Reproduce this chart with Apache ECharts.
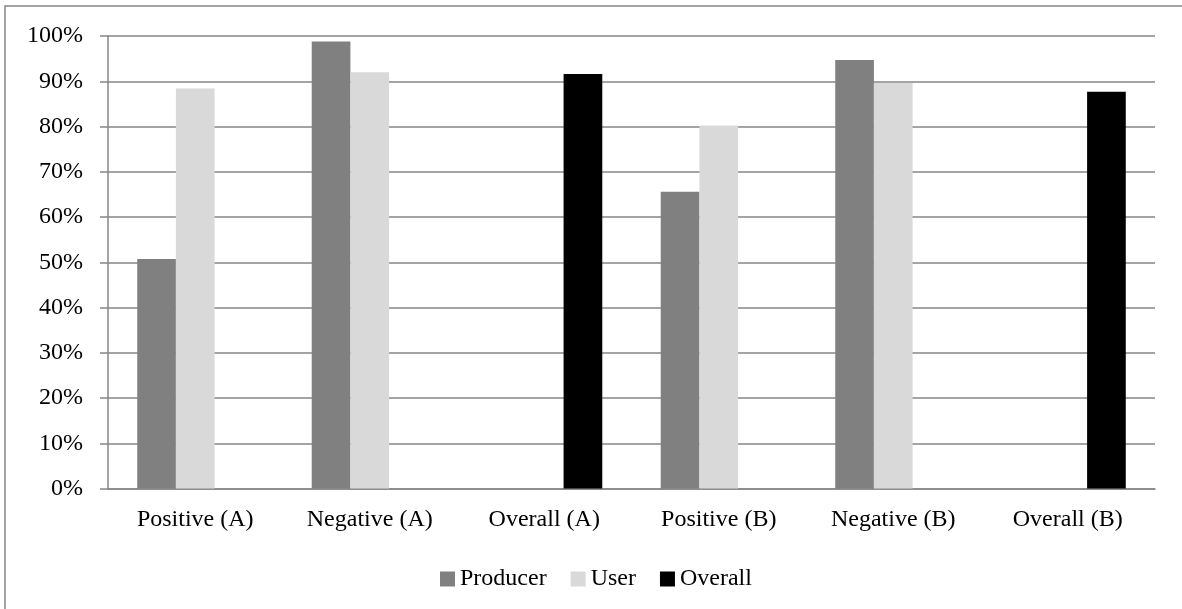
<!DOCTYPE html>
<html>
<head>
<meta charset="utf-8">
<script src="https://cdn.jsdelivr.net/npm/echarts@6/dist/echarts.min.js"></script>
<style>
  html, body { margin: 0; padding: 0; background: #fff; }
  #chart { width: 1182px; height: 609px; }
</style>
</head>
<body>
<div id="chart"></div>
<script>
// categories and values (percent)
const categories = ['Positive (A)', 'Negative (A)', 'Overall (A)', 'Positive (B)', 'Negative (B)', 'Overall (B)'];
const producer = [50.7, 98.8, '-', 65.6, 94.7, '-'];
const user = [88.4, 92.0, '-', 80.2, 89.6, '-'];
const overall = ['-', '-', 91.6, '-', '-', 87.7];
const yTicks = [0, 10, 20, 30, 40, 50, 60, 70, 80, 90, 100];

const font = '"Liberation Serif", "Times New Roman", serif';
const gridColor = '#868686';

const chart = echarts.init(document.getElementById('chart'));

chart.setOption({
  animation: false,
  textStyle: { fontFamily: font },
  // outer frame of the chart area
  graphic: [{
    type: 'rect',
    shape: { x: 5, y: 6, width: 1200, height: 620 },
    style: { fill: null, stroke: gridColor, lineWidth: 1.5 },
    silent: true
  }],
  grid: {
    left: 108,
    right: 27,
    top: 36,
    bottom: 120.5
  },
  legend: {
    data: ['Producer', 'User', 'Overall'],
    left: 435,
    top: 562,
    icon: 'rect',
    itemWidth: 15,
    itemHeight: 15,
    itemGap: 24,
    textStyle: { fontFamily: font, fontSize: 24, color: '#000' }
  },
  xAxis: {
    type: 'category',
    data: categories,
    axisLine: { lineStyle: { color: gridColor, width: 1.5 } },
    axisTick: { length: 6, lineStyle: { color: gridColor, width: 1.5 } },
    axisLabel: { fontFamily: font, fontSize: 24, color: '#000', margin: 19 }
  },
  yAxis: {
    type: 'value',
    min: 0,
    max: 100,
    interval: 10,
    axisLine: { show: true, lineStyle: { color: gridColor, width: 1.5 } },
    axisTick: { show: true, length: 8, lineStyle: { color: gridColor, width: 1.5 } },
    splitLine: { lineStyle: { color: gridColor, width: 1.5 } },
    axisLabel: {
      fontFamily: font,
      fontSize: 24,
      color: '#000',
      margin: 25,
      formatter: function (v) {
        return yTicks.indexOf(v) >= 0 ? v + '%' : '';
      }
    }
  },
  series: [
    {
      name: 'Producer',
      type: 'bar',
      data: producer,
      barGap: '0%',
      barCategoryGap: '33.5%',
      itemStyle: { color: '#808080' }
    },
    {
      name: 'User',
      type: 'bar',
      data: user,
      itemStyle: { color: '#d9d9d9' }
    },
    {
      name: 'Overall',
      type: 'bar',
      data: overall,
      itemStyle: { color: '#000000' }
    }
  ]
});
</script>
</body>
</html>
